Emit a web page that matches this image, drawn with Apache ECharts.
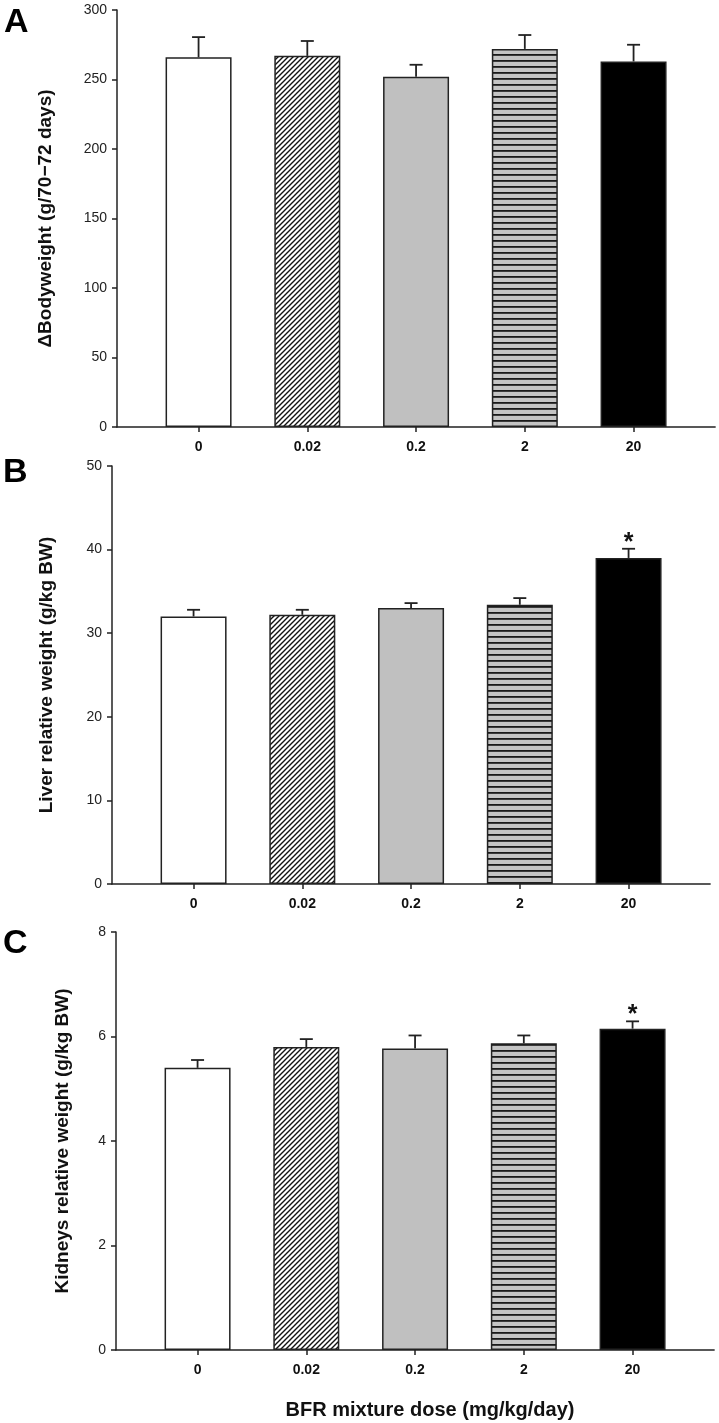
<!DOCTYPE html>
<html>
<head>
<meta charset="utf-8">
<script src="https://cdn.jsdelivr.net/npm/echarts@6/dist/echarts.min.js"></script>
<style>
html,body{margin:0;padding:0;background:#fff;}
#chart{width:719px;height:1423px;}
</style>
</head>
<body>
<div id="chart"></div>
<script>
// ---- data ----
const categories = ['0', '0.02', '0.2', '2', '20'];
const bodyweight = [266, 267, 252, 272, 263];
const bodyweightErr = [14.5, 10.7, 8.6, 10, 12];
const bodyweightSig = [0, 0, 0, 0, 0];
const liver = [32.0, 32.2, 33.0, 33.4, 39.0];
const liverErr = [0.8, 0.6, 0.6, 0.8, 1.1];
const liverSig = [0, 0, 0, 0, 1];
const kidneys = [5.4, 5.8, 5.77, 5.87, 6.15];
const kidneysErr = [0.15, 0.15, 0.25, 0.15, 0.14];
const kidneysSig = [0, 0, 0, 0, 1];
const yTicksA = [0, 300, 50];
const yTicksB = [0, 50, 10];
const yTicksC = [0, 8, 2];

// ---- fills ----
function hatchCanvas() {
  const s = 5, c = document.createElement('canvas');
  c.width = s; c.height = s;
  const g = c.getContext('2d');
  g.fillStyle = '#fff'; g.fillRect(0, 0, s, s);
  g.strokeStyle = '#111'; g.lineWidth = 1.4;
  g.beginPath();
  g.moveTo(-1, s + 1); g.lineTo(s + 1, -1);
  g.moveTo(-2, 2); g.lineTo(2, -2);
  g.moveTo(s - 2, s + 2); g.lineTo(s + 2, s - 2);
  g.stroke();
  return c;
}
function stripeCanvas() {
  const c = document.createElement('canvas');
  c.width = 4; c.height = 6;
  const g = c.getContext('2d');
  g.fillStyle = '#c4c4c4'; g.fillRect(0, 0, 4, 6);
  g.fillStyle = '#1a1a1a'; g.fillRect(0, 0, 4, 1.8);
  return c;
}
const fills = [
  '#ffffff',
  { image: hatchCanvas(), repeat: 'repeat' },
  '#c0c0c0',
  { image: stripeCanvas(), repeat: 'repeat' },
  '#000000'
];

const ink = '#222';
const font = 'Liberation Sans, Arial, sans-serif';

const panels = [
  { left: 117, top: 10, height: 417, name: '\u0394Bodyweight (g/70\u221272 days)', gap: 62, vals: bodyweight, err: bodyweightErr, sig: bodyweightSig, yt: yTicksA },
  { left: 112, top: 466, height: 418, name: 'Liver relative weight (g/kg BW)', gap: 56, vals: liver, err: liverErr, sig: liverSig, yt: yTicksB },
  { left: 116, top: 932, height: 418, name: 'Kidneys relative weight (g/kg BW)', gap: 44, vals: kidneys, err: kidneysErr, sig: kidneysSig, yt: yTicksC }
];
const bandW = 108.75;

const grid = [], xAxis = [], yAxis = [], series = [];
panels.forEach((p, i) => {
  grid.push({ left: p.left, top: p.top, width: bandW * 5.5, height: p.height, containLabel: false });
  xAxis.push({
    type: 'value', gridIndex: i, min: -0.75, max: 4.75,
    axisLine: { show: true, onZero: false, lineStyle: { color: ink, width: 1.5 } },
    axisTick: { show: true, length: 5, lineStyle: { color: ink, width: 1.5 }, customValues: [0, 1, 2, 3, 4] },
    axisLabel: { customValues: [0, 1, 2, 3, 4], formatter: v => categories[Math.round(v)] ?? '', color: '#111', fontSize: 14, fontWeight: 'bold', fontFamily: font, margin: 13 },
    splitLine: { show: false }
  });
  yAxis.push({
    type: 'value', gridIndex: i, min: p.yt[0], max: p.yt[1], interval: p.yt[2],
    name: p.name, nameLocation: 'middle', nameRotate: 90, nameGap: p.gap,
    nameTextStyle: { fontSize: 19, fontWeight: 'bold', color: '#111', fontFamily: font },
    axisLine: { show: true, onZero: false, lineStyle: { color: ink, width: 1.5 } },
    axisTick: { show: true, length: 5, lineStyle: { color: ink, width: 1.5 } },
    axisLabel: { color: '#222', fontSize: 14, fontFamily: font, margin: 10 },
    splitLine: { show: false }
  });
  series.push({
    type: 'bar', xAxisIndex: i, yAxisIndex: i, barWidth: 66,
    data: p.vals.map((v, k) => ({ value: [k, v], itemStyle: { color: fills[k], borderColor: ink, borderWidth: 1.5 } })),
    silent: true, animation: false
  });
  series.push({
    type: 'custom', xAxisIndex: i, yAxisIndex: i, z: 10, silent: true, animation: false,
    data: p.vals.map((v, k) => [k, v, p.err[k], p.sig[k]]),
    renderItem: function (params, api) {
      const x = api.value(0), y = api.value(1), e = api.value(2), s = api.value(3);
      const p0 = api.coord([x, y]), p1 = api.coord([x, y + e]);
      const children = [
        { type: 'line', shape: { x1: p0[0], y1: p0[1], x2: p1[0], y2: p1[1] }, style: { stroke: ink, lineWidth: 1.8 } },
        { type: 'line', shape: { x1: p1[0] - 6.5, y1: p1[1], x2: p1[0] + 6.5, y2: p1[1] }, style: { stroke: ink, lineWidth: 1.8 } }
      ];
      if (s) {
        children.push({ type: 'text', x: p1[0], y: p1[1] - 6, style: { text: '*', fill: '#111', font: 'bold 25px ' + font, align: 'center', verticalAlign: 'middle' } });
      }
      return { type: 'group', children: children };
    }
  });
});

const chart = echarts.init(document.getElementById('chart'), null, { renderer: 'canvas' });
chart.setOption({
  backgroundColor: '#fff',
  animation: false,
  grid, xAxis, yAxis, series,
  graphic: [
    { type: 'text', left: 4, top: 6, style: { text: 'A', font: 'bold 34px ' + font, fill: '#000' } },
    { type: 'text', left: 3, top: 456, style: { text: 'B', font: 'bold 34px ' + font, fill: '#000' } },
    { type: 'text', left: 3, top: 927, style: { text: 'C', font: 'bold 34px ' + font, fill: '#000' } },
    { type: 'text', x: 430, y: 1410, style: { text: 'BFR mixture dose (mg/kg/day)', font: 'bold 20px ' + font, fill: '#111', align: 'center', verticalAlign: 'middle' } }
  ]
});
</script>
</body>
</html>
